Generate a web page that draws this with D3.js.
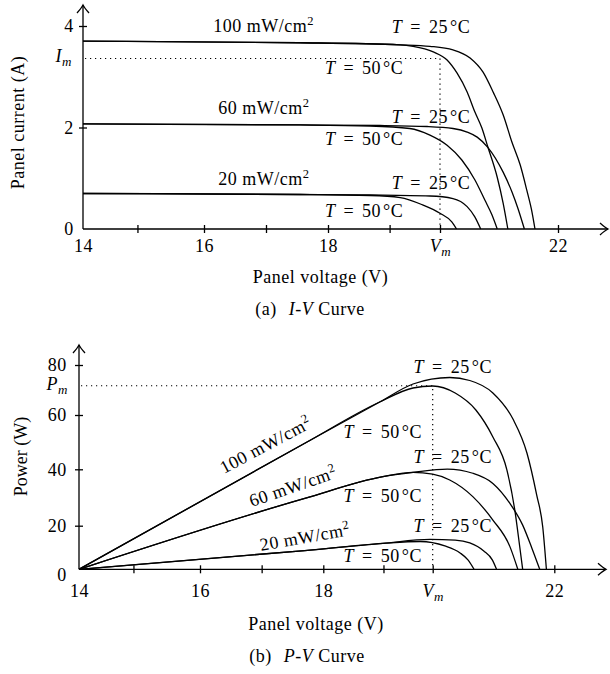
<!DOCTYPE html>
<html>
<head>
<meta charset="utf-8">
<script src="https://cdn.jsdelivr.net/npm/d3@7"></script>
<style>
	body { margin: 0; background: #fff; }
	svg text { font-family: 'Liberation Serif', 'Times New Roman', serif; font-size: 18px; fill: #000; letter-spacing: 0.5px; }
	.curve { fill: none; stroke: #000; stroke-width: 1.3; }
	.axis-line { fill: none; stroke: #000; stroke-width: 1.3; }
	.guide { fill: none; stroke: #000; stroke-width: 1.2; stroke-dasharray: 1.2 3.8; }
</style>
</head>
<body>
<svg id="chart" width="610" height="674"></svg>
<script>
(function () {
	'use strict';

	// axes
	var voltageTicks = [14, 16, 18, 20, 22];
	var voltageTickLabels = ['14', '16', '18', 'Vm', '22'];
	var voltageMinorTicks = [14.9, 17, 19.1];
	var currentTicks = [0, 2, 4];
	var powerTicks = [0, 20, 40, 60, 80];

	var irradiances = ['100', '60', '20'];
	var temperatures = [25, 50];

	// maximum power point (Vm, Im) and (Vm, Pm)
	var ivMax = [20, 3.36];
	var pvMax = [20, 71.7];

	// I-V curves [V, A]
	var iv100At25 = [[14, 3.70], [17.55, 3.67], [19.29, 3.63], [19.82, 3.60], [20.22, 3.53], [20.51, 3.37], [20.73, 3.09], [20.90, 2.70], [21.07, 2.25], [21.22, 1.71], [21.36, 1.26], [21.47, 0.77], [21.56, 0.33], [21.61, 0]];
	var iv100At50 = [[14, 3.70], [17.55, 3.67], [19.29, 3.63], [19.52, 3.60], [19.88, 3.49], [20.12, 3.33], [20.29, 3.07], [20.46, 2.70], [20.59, 2.31], [20.71, 1.99], [20.81, 1.62], [20.97, 1.02], [21.07, 0.51], [21.15, 0]];
	var iv60At25 = [[14, 2.07], [17.55, 2.05], [18.93, 2.04], [19.77, 2.02], [20.22, 1.98], [20.46, 1.91], [20.63, 1.81], [20.81, 1.61], [21.07, 1.12], [21.22, 0.73], [21.32, 0.41], [21.43, 0]];
	var iv60At50 = [[14, 2.07], [17.55, 2.05], [18.75, 2.03], [19.46, 1.98], [19.82, 1.85], [20.12, 1.65], [20.37, 1.36], [20.59, 0.97], [20.76, 0.57], [20.88, 0.28], [20.97, 0]];
	var iv20At25 = [[14, 0.70], [17.55, 0.68], [18.75, 0.67], [19.82, 0.65], [20.22, 0.60], [20.46, 0.44], [20.59, 0.24], [20.69, 0]];
	var iv20At50 = [[14, 0.70], [17.55, 0.68], [18.75, 0.66], [19.29, 0.62], [19.70, 0.47], [20.00, 0.31], [20.20, 0.14], [20.28, 0]];

	// P-V curves [V, W]
	var pv100At25 = [[14, 0], [17.70, 49.6], [19.04, 65.3], [19.64, 72.4], [20.28, 75.0], [20.61, 73.8], [20.99, 68.8], [21.32, 58.5], [21.55, 46.0], [21.71, 30.9], [21.81, 19.4], [21.87, 0]];
	var pv100At50 = [[14, 0], [17.70, 49.6], [19.04, 65.3], [19.64, 70.8], [20.00, 71.6], [20.37, 68.8], [20.71, 62.0], [20.99, 51.9], [21.22, 39.8], [21.35, 25.6], [21.43, 10.7], [21.48, 0]];
	var pv60At25 = [[14, 0], [17.70, 29.7], [19.09, 37.4], [19.64, 38.9], [20.24, 40.1], [20.66, 38.6], [20.99, 35.0], [21.27, 27.9], [21.48, 20.2], [21.63, 9.8], [21.76, 0]];
	var pv60At50 = [[14, 0], [17.70, 29.7], [19.09, 37.4], [19.64, 38.9], [20.00, 38.3], [20.28, 36.2], [20.66, 30.3], [20.99, 22.0], [21.27, 10.4], [21.40, 0]];
	var pv20At25 = [[14, 0], [17.70, 8.6], [19.09, 11.9], [19.95, 13.7], [20.37, 13.4], [20.61, 12.1], [20.84, 8.4], [20.98, 4.3], [21.05, 0]];
	var pv20At50 = [[14, 0], [17.70, 8.6], [19.09, 11.9], [19.77, 12.75], [20.20, 10.7], [20.45, 7.5], [20.58, 4.3], [20.68, 0]];

	var svg = d3.select('#chart');

	renderIV(svg.append('g').classed('iv-chart', true));
	renderPV(svg.append('g').classed('pv-chart', true));

	function renderIV(g) {
		// the original axes are hand drawn, the ticks are not evenly spaced
		var x = d3.scaleLinear().domain(voltageTicks).range([83, 204, 328, 440, 558]);
		var y = d3.scaleLinear().domain([0, 4]).range([229, 26]);

		drawFrame(g, x, y, {
			xEnd: 608,
			yEnd: 5,
			xPad: 6.2,
			yPad: 5.3,
			yTicks: currentTicks
		});

		drawGuide(g, x, y, ivMax, 'I');

		[iv100At25, iv100At50, iv60At25, iv60At50, iv20At25, iv20At50].forEach(function (points) {
			drawCurve(g, x, y, points);
		});

		var irradianceAt = [[16.15, 3.89], [16.23, 2.27], [16.23, 0.87]];
		var hotAt = [[19.14, 3.86], [19.14, 2.09], [19.14, 0.79]];
		var warmAt = [[17.95, 3.05], [17.95, 1.66], [17.95, 0.24]];

		irradiances.forEach(function (irradiance, i) {
			irradianceLabel(g.append('text')
				.attr('x', x(irradianceAt[i][0]))
				.attr('y', y(irradianceAt[i][1])), irradiance);

			temperatureLabel(g.append('text')
				.attr('x', x(hotAt[i][0]))
				.attr('y', y(hotAt[i][1])), temperatures[0]);

			temperatureLabel(g.append('text')
				.attr('x', x(warmAt[i][0]))
				.attr('y', y(warmAt[i][1])), temperatures[1]);
		});

		g.append('text')
			.attr('transform', 'translate(23.5,122.5) rotate(-90)')
			.attr('text-anchor', 'middle')
			.text('Panel current (A)');

		g.append('text')
			.attr('x', 320.5)
			.attr('y', 283)
			.attr('text-anchor', 'middle')
			.text('Panel voltage (V)');

		caption(g, 310, 315, '(a)', 'I-V');
	}

	function renderPV(g) {
		var x = d3.scaleLinear().domain(voltageTicks).range([79, 200, 323.3, 432.7, 554.3]);
		var y = d3.scaleLinear().domain(powerTicks).range([569.3, 525.7, 469.3, 415, 365]);

		var frame = drawFrame(g, x, y, {
			xEnd: 606,
			yEnd: 345,
			xPad: 11.4,
			yPad: 8.3,
			yTicks: powerTicks
		});

		// zero sits lower on this axis
		frame.yAxis.selectAll('.tick text')
			.filter(function (d) { return d === 0; })
			.attr('dy', '0.63em');

		drawGuide(g, x, y, pvMax, 'P');

		[pv100At25, pv100At50, pv60At25, pv60At50, pv20At25, pv20At50].forEach(function (points) {
			drawCurve(g, x, y, points);
		});

		var irradianceAt = [[16.39, 38.3, 28], [16.84, 26.6, 19], [16.99, 8.4, 10]];
		var hotAt = [[19.65, 76.7], [19.65, 42.2], [19.65, 17.2]];
		var warmAt = [[18.37, 51.4], [18.37, 28.5], [18.37, 3.5]];

		irradiances.forEach(function (irradiance, i) {
			var at = irradianceAt[i];

			irradianceLabel(g.append('text')
				.attr('transform', 'translate(' + x(at[0]) + ',' + y(at[1]) + ') rotate(' + (-at[2]) + ')'), irradiance);

			temperatureLabel(g.append('text')
				.attr('x', x(hotAt[i][0]))
				.attr('y', y(hotAt[i][1])), temperatures[0]);

			temperatureLabel(g.append('text')
				.attr('x', x(warmAt[i][0]))
				.attr('y', y(warmAt[i][1])), temperatures[1]);
		});

		g.append('text')
			.attr('transform', 'translate(27,456.5) rotate(-90)')
			.attr('text-anchor', 'middle')
			.style('letter-spacing', '0px')
			.text('Power (W)');

		g.append('text')
			.attr('x', 316)
			.attr('y', 630)
			.attr('text-anchor', 'middle')
			.text('Panel voltage (V)');

		caption(g, 307, 661.5, '(b)', 'P-V');
	}

	function drawFrame(g, x, y, options) {
		var x0 = x.range()[0];
		var y0 = y.range()[0];

		var xAxis = g.append('g')
			.attr('transform', 'translate(0,' + y0 + ')')
			.call(d3.axisBottom(x)
				.tickValues(voltageTicks.concat(voltageMinorTicks))
				.tickSize(4)
				.tickPadding(options.xPad)
				.tickFormat(function (d) {
					var i = voltageTicks.indexOf(d);
					return i < 0 ? '' : voltageTickLabels[i];
				}));

		var yAxis = g.append('g')
			.attr('transform', 'translate(' + x0 + ',0)')
			.call(d3.axisLeft(y)
				.tickValues(options.yTicks)
				.tickSize(4)
				.tickPadding(options.yPad)
				.tickFormat(d3.format('d')));

		[xAxis, yAxis].forEach(function (axis) {
			axis.attr('font-family', null).attr('font-size', null);
			axis.select('.domain').remove();
			axis.selectAll('.tick line').attr('stroke-width', 1.3);
		});

		// ticks cross the axis line
		xAxis.selectAll('.tick line').attr('y1', -4);
		yAxis.selectAll('.tick line').attr('x1', 4);
		// no tick mark at the origin
		xAxis.selectAll('.tick').filter(function (d) { return d === voltageTicks[0]; }).select('line').remove();
		yAxis.selectAll('.tick').filter(function (d) { return d === 0; }).select('line').remove();

		xAxis.selectAll('.tick text')
			.filter(function (d) { return voltageTickLabels[voltageTicks.indexOf(d)] === 'Vm'; })
			.text(null)
			.call(subscripted, 'V', 'm');

		g.append('path')
			.classed('axis-line', true)
			.attr('d', 'M' + x0 + ',' + y0 + 'H' + options.xEnd + 'M' + x0 + ',' + y0 + 'V' + options.yEnd);

		arrowHead(g, options.xEnd, y0, 90);
		arrowHead(g, x0, options.yEnd, 0);

		return { xAxis: xAxis, yAxis: yAxis };
	}

	function arrowHead(g, px, py, angle) {
		g.append('path')
			.classed('axis-line', true)
			.attr('transform', 'translate(' + px + ',' + py + ') rotate(' + angle + ')')
			.attr('d', 'M-6,8Q-1.5,3 0,0Q1.5,3 6,8');
	}

	function drawGuide(g, x, y, point, symbol) {
		var px = x(point[0]);
		var py = y(point[1]);

		g.append('path')
			.classed('guide', true)
			.attr('d', 'M' + (x.range()[0] + 2) + ',' + py + 'H' + px + 'V' + y.range()[0]);

		g.append('text')
			.attr('x', x.range()[0] - 11)
			.attr('y', py + 4)
			.attr('text-anchor', 'end')
			.call(subscripted, symbol, 'm');
	}

	function drawCurve(g, x, y, points) {
		var line = d3.line()
			.x(function (d) { return x(d[0]); })
			.y(function (d) { return y(d[1]); })
			.curve(d3.curveMonotoneX);

		g.append('path')
			.classed('curve', true)
			.attr('d', line(points));
	}

	function subscripted(text, main, sub) {
		text.append('tspan')
			.style('font-style', 'italic')
			.text(main);
		text.append('tspan')
			.attr('dy', 4)
			.style('font-style', 'italic')
			.style('font-size', '13px')
			.text(sub);
	}

	function irradianceLabel(text, irradiance) {
		text.append('tspan').text(irradiance + ' mW/cm');
		text.append('tspan')
			.attr('dy', -7)
			.style('font-size', '12.5px')
			.text('2');
	}

	function temperatureLabel(text, temperature) {
		text.append('tspan').style('font-style', 'italic').text('T');
		text.append('tspan').attr('dx', 8).text('=');
		text.append('tspan').attr('dx', 8).text(temperature);
		text.append('tspan').attr('dx', 2).text('°');
		text.append('tspan').text('C');
	}

	function caption(g, cx, cy, tag, name) {
		var text = g.append('text')
			.attr('x', cx)
			.attr('y', cy)
			.attr('text-anchor', 'middle');

		text.append('tspan').text(tag);
		text.append('tspan').attr('dx', 12).style('font-style', 'italic').text(name);
		text.append('tspan').text(' Curve');
	}
}());
</script>
</body>
</html>
